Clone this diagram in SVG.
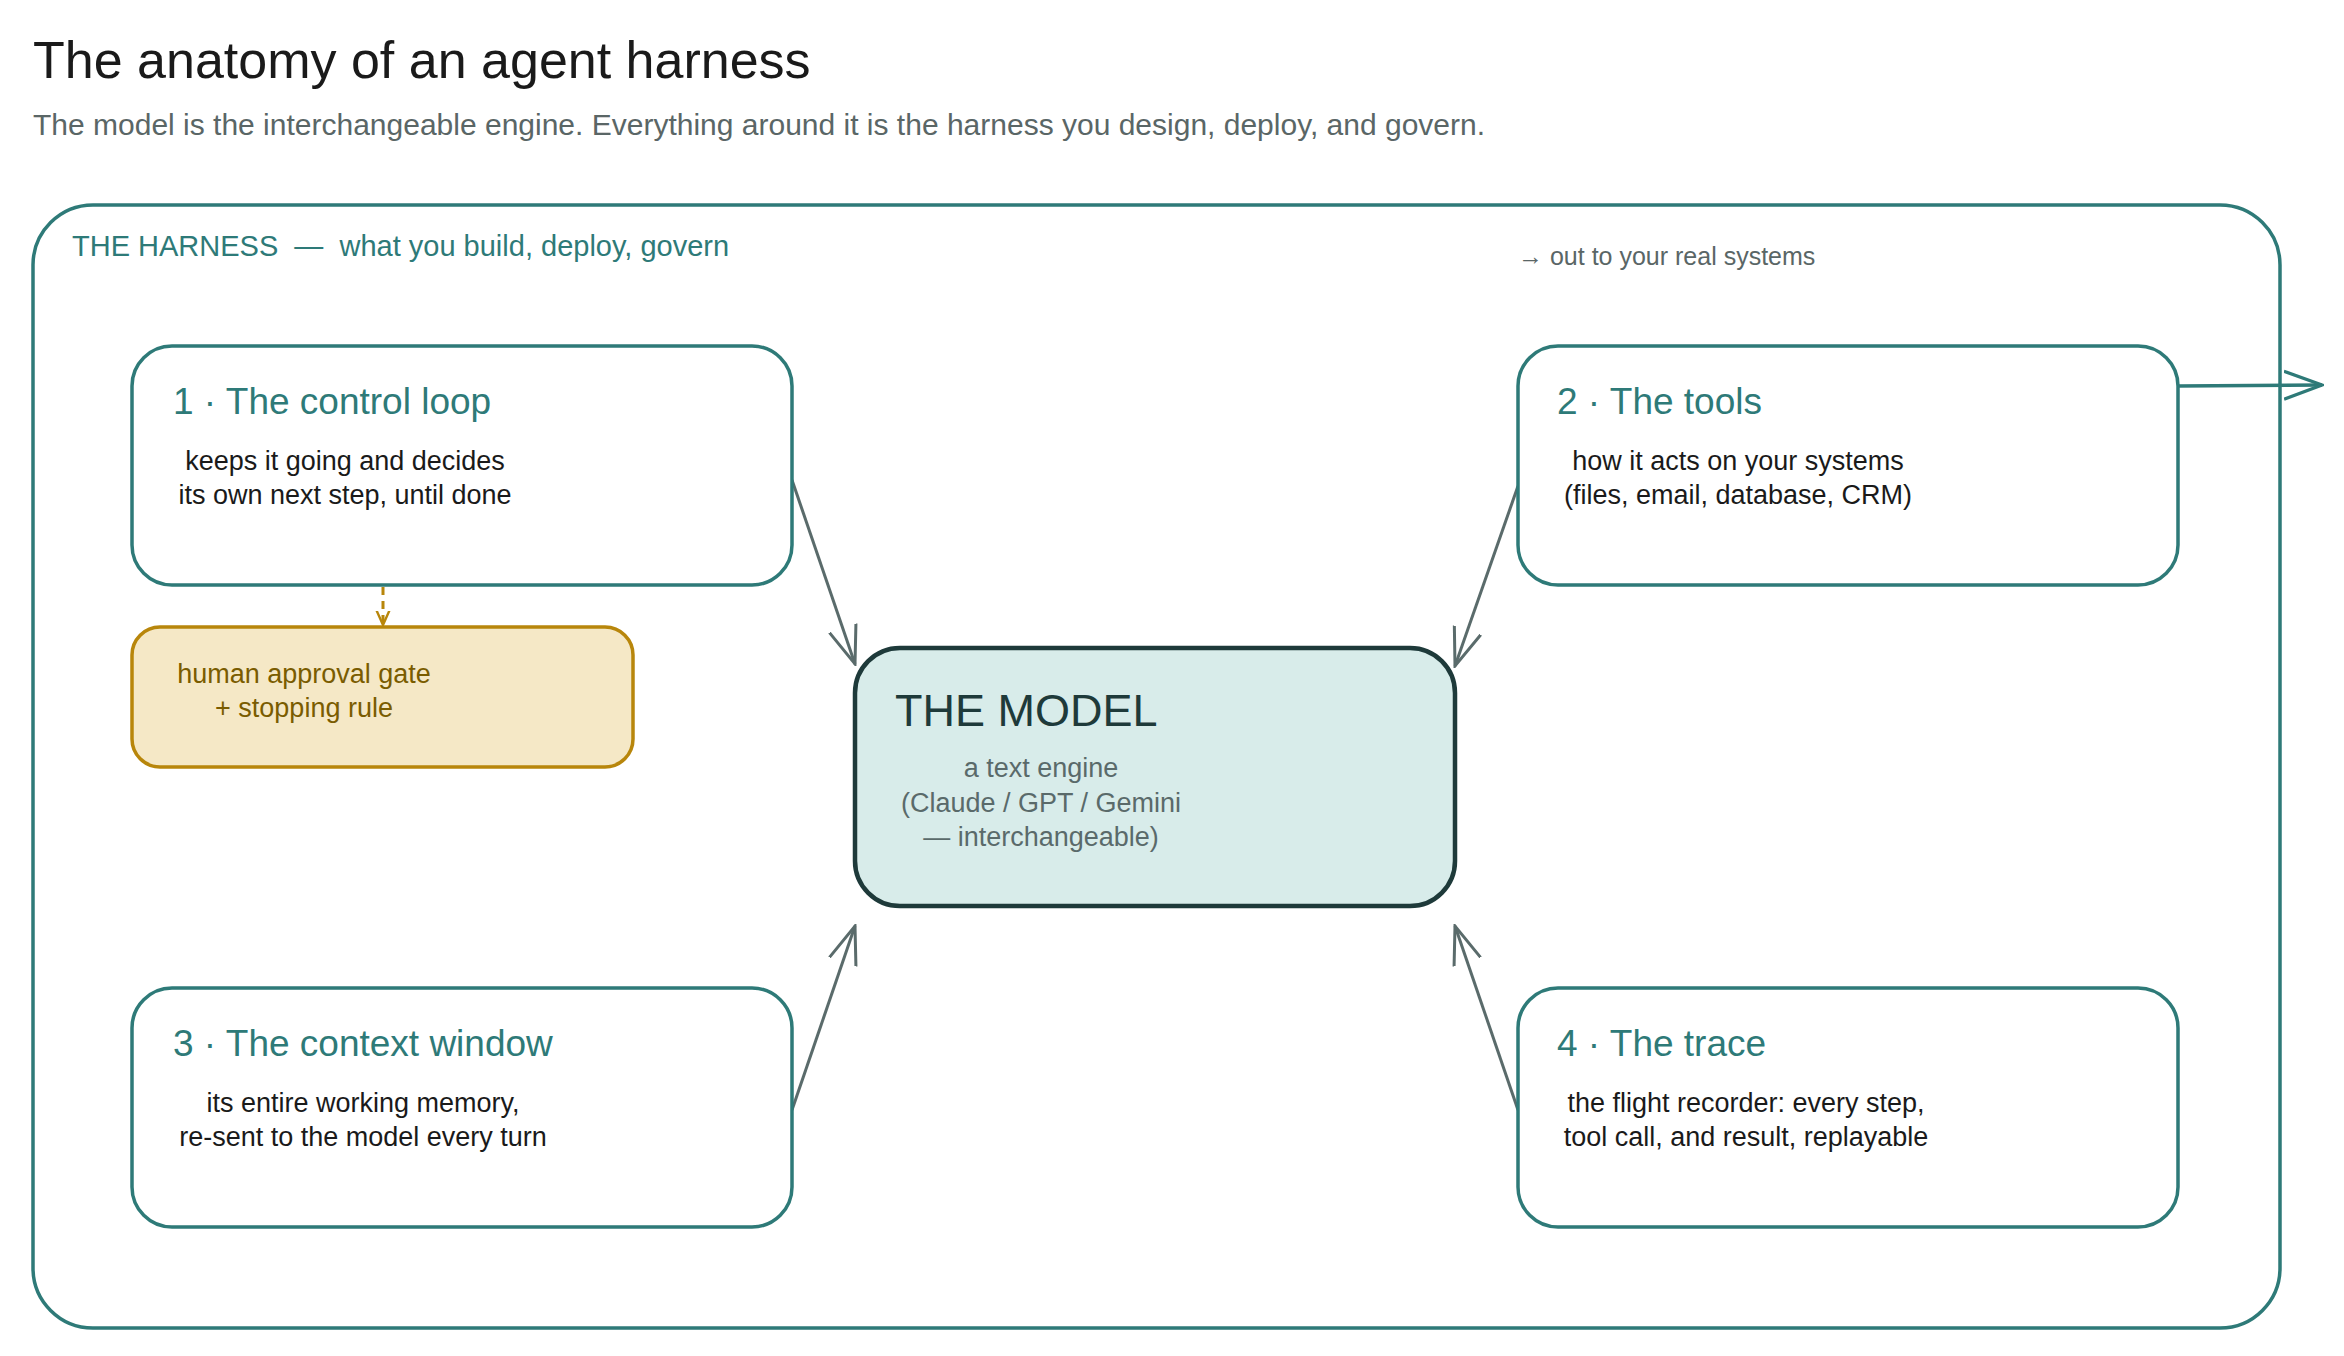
<svg xmlns="http://www.w3.org/2000/svg" width="2344" height="1356" viewBox="0 0 2344 1356">
<style>
text{font-family:"Liberation Sans",Arial,sans-serif}
.card{fill:#fff;stroke:#2e7a78;stroke-width:3.5}
.ttl{fill:#2e7a78;font-size:37px}
.body{fill:#1a1a1a;font-size:27px;text-anchor:middle}
.conn{stroke:#5a6b6b;stroke-width:3;fill:none}
</style>
<defs>
<marker id="ah" viewBox="0 0 20 20" refX="19" refY="10" markerWidth="40" markerHeight="40" markerUnits="userSpaceOnUse" orient="auto"><path d="M0,3 L19,10 L0,17" fill="none" stroke="#5a6b6b" stroke-width="1.5"/></marker>
<marker id="ah2" viewBox="0 0 20 20" refX="19" refY="10" markerWidth="40" markerHeight="40" markerUnits="userSpaceOnUse" orient="auto"><path d="M0,3 L19,10 L0,17" fill="none" stroke="#2e7a78" stroke-width="1.6"/></marker>
<marker id="ah3" viewBox="0 0 20 20" refX="18" refY="10" markerWidth="16" markerHeight="16" markerUnits="userSpaceOnUse" orient="auto"><path d="M0,2 L18,10 L0,18" fill="none" stroke="#b8860b" stroke-width="3"/></marker>
</defs>
<rect width="2344" height="1356" fill="#fff"/>
<text x="33" y="78" font-size="52" fill="#1a1a1a">The anatomy of an agent harness</text>
<text x="33" y="135" font-size="30" fill="#5a6666">The model is the interchangeable engine. Everything around it is the harness you design, deploy, and govern.</text>
<g id="harness">
<rect x="33" y="205" width="2247" height="1123" rx="60" fill="none" stroke="#2e7a78" stroke-width="3.5"/>
<text x="72" y="256" font-size="29" fill="#2e7a78" xml:space="preserve">THE HARNESS  —  what you build, deploy, govern</text>
<text x="1518" y="265" font-size="25" fill="#5a6666">→ out to your real systems</text>
</g>
<g id="connectors">
<line class="conn" x1="792" y1="480" x2="855" y2="664" marker-end="url(#ah)"/>
<line class="conn" x1="1518" y1="486" x2="1455" y2="666" marker-end="url(#ah)"/>
<line class="conn" x1="792" y1="1110" x2="855" y2="926" marker-end="url(#ah)"/>
<line class="conn" x1="1518" y1="1110" x2="1455" y2="926" marker-end="url(#ah)"/>
<line x1="383" y1="587" x2="383" y2="625" stroke="#b8860b" stroke-width="3" stroke-dasharray="8 6" marker-end="url(#ah3)"/>
<line x1="2178" y1="386" x2="2322" y2="385" stroke="#2e7a78" stroke-width="3.5" marker-end="url(#ah2)"/>
</g>
<g id="loop">
<rect class="card" x="132" y="346" width="660" height="239" rx="40"/>
<text class="ttl" x="173" y="414">1 · The control loop</text>
<text class="body" x="345" y="470">keeps it going and decides</text>
<text class="body" x="345" y="504">its own next step, until done</text>
</g>
<g id="tools">
<rect class="card" x="1518" y="346" width="660" height="239" rx="40"/>
<text class="ttl" x="1557" y="414">2 · The tools</text>
<text class="body" x="1738" y="470">how it acts on your systems</text>
<text class="body" x="1738" y="504">(files, email, database, CRM)</text>
</g>
<g id="context">
<rect class="card" x="132" y="988" width="660" height="239" rx="40"/>
<text class="ttl" x="173" y="1056">3 · The context window</text>
<text class="body" x="363" y="1112">its entire working memory,</text>
<text class="body" x="363" y="1146">re-sent to the model every turn</text>
</g>
<g id="trace">
<rect class="card" x="1518" y="988" width="660" height="239" rx="40"/>
<text class="ttl" x="1557" y="1056">4 · The trace</text>
<text class="body" x="1746" y="1112">the flight recorder: every step,</text>
<text class="body" x="1746" y="1146">tool call, and result, replayable</text>
</g>
<g id="gate">
<rect x="132" y="627" width="501" height="140" rx="28" fill="#f5e8c6" stroke="#b8860b" stroke-width="3.5"/>
<text x="304" y="683" font-size="27" fill="#7a5c00" text-anchor="middle">human approval gate</text>
<text x="304" y="717" font-size="27" fill="#7a5c00" text-anchor="middle">+ stopping rule</text>
</g>
<g id="model">
<rect x="855" y="648" width="600" height="258" rx="45" fill="#d8ecea" stroke="#1e3a3a" stroke-width="4.5"/>
<text x="895" y="726" font-size="45" fill="#1e3a3a">THE MODEL</text>
<text x="1041" y="777" font-size="27" fill="#5a6a6a" text-anchor="middle">a text engine</text>
<text x="1041" y="812" font-size="27" fill="#5a6a6a" text-anchor="middle">(Claude / GPT / Gemini</text>
<text x="1041" y="846" font-size="27" fill="#5a6a6a" text-anchor="middle">— interchangeable)</text>
</g>
</svg>
